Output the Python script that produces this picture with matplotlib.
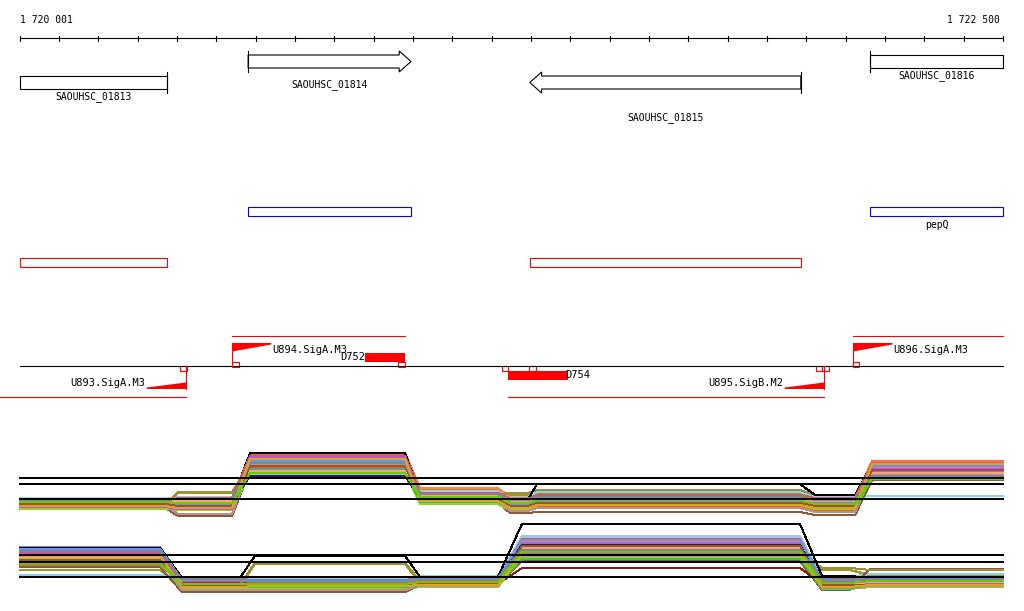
import matplotlib
matplotlib.use("Agg")
import matplotlib.pyplot as plt
from matplotlib.patches import Polygon, Rectangle

plt.rcParams["font.family"] = "DejaVu Sans Mono"

# genome window
win_start = 1720001
win_end = 1722500
tick_step = 100
tick_labels = ["1 720 001", "1 722 500"]

# annotated genes
gene_names = ["SAOUHSC_01813", "SAOUHSC_01814", "SAOUHSC_01815", "SAOUHSC_01816"]
gene_start = [1720001, 1720581, 1721297, 1722162]
gene_end = [1720375, 1720995, 1721986, 1722500]
gene_strand = ["-", "+", "-", "+"]
gene_arrow = [False, True, True, False]

# blue / red feature boxes
blue_names = ["", "pepQ"]
blue_start = [1720581, 1722162]
blue_end = [1720995, 1722500]
red_start = [1720001, 1721297]
red_end = [1720375, 1721986]

# promoters (TSS)
tss_names = ["U893.SigA.M3", "U894.SigA.M3", "U895.SigB.M2", "U896.SigA.M3"]
tss_pos = [1720423, 1720540, 1722045, 1722119]
tss_strand = ["-", "+", "-", "+"]
tss_reach = [1719950, 1720980, 1721242, 1722500]

# downstream regions
d_names = ["D752", "D754"]
d_start = [1720878, 1721242]
d_end = [1720980, 1721394]
d_strand = ["+", "-"]

# small markers on the strand line
mark_pos = [1720417, 1720549, 1720971, 1721234, 1721304, 1722032, 1722049, 1722126]
mark_strand = ["-", "+", "+", "-", "-", "-", "-", "+"]

# expression track 1: segment bounds and per-sample levels
t1_seg_start = [1720001, 1720403, 1720586, 1721018, 1721247, 1721315, 1722022, 1722167]
t1_seg_end = [1720370, 1720540, 1720980, 1721216, 1721292, 1721984, 1722124, 1722500]
t1_refs = [7.1, 8.6, 9.2]
t1_levels = [
    [6.9, 7.0, 11.6, 7.6, 7.0, 7.3, 7.0, 10.9],
    [6.7, 6.9, 11.2, 7.4, 6.8, 7.0, 6.6, 10.6],
    [6.6, 7.7, 10.9, 8.0, 7.5, 7.6, 7.2, 10.5],
    [6.4, 6.5, 10.3, 6.9, 6.4, 6.6, 6.2, 9.8],
    [7.0, 6.9, 11.0, 7.2, 6.9, 7.1, 6.8, 10.0],
    [7.1, 7.3, 9.6, 7.8, 7.3, 7.8, 7.4, 7.4],
    [6.8, 6.8, 10.8, 7.3, 6.7, 6.9, 6.5, 10.2],
    [6.6, 6.7, 10.7, 7.1, 6.6, 6.8, 6.4, 10.3],
    [6.3, 6.2, 10.2, 6.8, 6.1, 6.4, 6.0, 9.4],
    [6.2, 5.4, 10.0, 6.7, 5.7, 5.8, 5.5, 9.0],
    [7.2, 7.1, 10.9, 7.9, 7.2, 7.2, 7.0, 9.6],
    [6.9, 6.6, 10.6, 7.0, 6.5, 6.7, 6.3, 9.8],
    [6.5, 6.4, 10.4, 7.1, 6.3, 6.9, 6.4, 9.3],
    [6.1, 6.0, 9.8, 6.6, 6.0, 6.5, 6.1, 9.9],
    [6.8, 6.6, 11.7, 8.2, 7.2, 7.4, 7.1, 10.8],
    [6.4, 7.8, 10.5, 7.5, 7.7, 8.0, 7.5, 10.4],
    [6.7, 6.8, 10.1, 7.3, 6.8, 7.0, 6.7, 9.9],
    [6.6, 6.5, 10.6, 7.0, 6.5, 6.8, 6.5, 10.1],
    [7.1, 7.0, 11.7, 7.5, 7.0, 8.6, 7.5, 10.6],
    [7.0, 6.8, 9.4, 7.2, 6.8, 7.2, 6.9, 9.5],
    [6.5, 5.6, 10.5, 6.9, 5.9, 6.2, 5.8, 9.6],
    [6.4, 6.3, 10.0, 6.8, 6.3, 6.5, 6.2, 9.2],
    [6.7, 7.2, 11.4, 7.7, 7.1, 7.5, 7.2, 10.7],
    [6.5, 6.6, 10.9, 7.2, 6.6, 6.9, 6.6, 10.4],
    [6.9, 6.9, 9.9, 7.4, 6.9, 7.1, 6.9, 9.7],
    [6.3, 6.1, 11.3, 6.9, 6.2, 6.6, 6.3, 10.1],
    [6.6, 6.4, 10.4, 7.0, 6.4, 6.7, 6.4, 10.0],
    [7.0, 7.1, 10.7, 7.6, 7.0, 7.3, 7.0, 9.4],
    [6.4, 6.2, 11.1, 6.9, 6.2, 6.5, 6.2, 10.6],
    [6.8, 6.7, 9.7, 7.3, 6.7, 7.0, 6.6, 9.1],
]

# expression track 2
t2_seg_start = [1720001, 1720413, 1720598, 1721018, 1721277, 1722040, 1722162]
t2_seg_end = [1720357, 1720560, 1720980, 1721216, 1721984, 1722111, 1722500]
t2_refs = [8.5, 7.8, 6.3]
t2_levels = [
    [8.6, 5.8, 5.8, 6.0, 9.8, 5.7, 6.2],
    [8.3, 5.6, 5.6, 5.8, 9.4, 5.5, 6.0],
    [7.0, 5.3, 7.6, 5.7, 8.2, 7.0, 6.5],
    [8.0, 5.1, 5.2, 5.4, 8.0, 5.2, 5.4],
    [8.8, 6.0, 5.9, 6.1, 9.0, 6.0, 6.0],
    [6.5, 6.2, 6.2, 6.4, 10.3, 6.3, 6.6],
    [8.9, 5.9, 5.7, 5.9, 9.6, 5.8, 5.9],
    [8.7, 5.7, 5.6, 5.8, 9.3, 5.6, 5.8],
    [8.2, 5.4, 5.3, 5.5, 8.6, 5.3, 5.6],
    [7.3, 4.8, 4.8, 5.5, 7.9, 5.0, 7.1],
    [9.2, 6.1, 6.0, 6.2, 10.4, 6.2, 6.3],
    [8.5, 5.8, 5.7, 5.9, 9.1, 5.7, 5.7],
    [7.6, 5.5, 5.5, 5.6, 7.2, 5.6, 5.8],
    [8.1, 5.2, 5.1, 5.3, 8.3, 5.1, 5.3],
    [9.0, 5.9, 5.8, 6.0, 9.9, 5.9, 6.1],
    [7.5, 5.5, 7.7, 5.9, 8.9, 7.2, 7.0],
    [9.3, 6.0, 5.9, 6.1, 9.7, 6.0, 6.0],
    [8.4, 5.6, 5.5, 5.7, 8.8, 5.5, 5.7],
    [9.2, 6.2, 8.4, 6.3, 11.6, 6.4, 6.2],
    [7.8, 5.9, 5.9, 6.0, 9.5, 5.8, 5.9],
    [7.9, 5.0, 5.0, 5.4, 8.4, 5.1, 5.4],
    [8.0, 5.3, 5.3, 5.5, 8.1, 5.2, 5.5],
    [8.8, 5.9, 5.8, 6.0, 10.1, 5.8, 5.9],
    [9.1, 6.0, 5.9, 6.1, 10.0, 6.0, 6.1],
    [8.3, 5.6, 5.6, 5.8, 9.2, 5.6, 5.8],
    [8.6, 5.4, 5.5, 5.6, 8.7, 5.4, 5.6],
    [8.0, 5.5, 5.4, 5.7, 9.4, 5.5, 5.5],
    [8.9, 6.1, 6.0, 6.2, 9.0, 6.1, 6.1],
    [8.4, 5.3, 5.4, 5.5, 8.5, 5.3, 5.5],
    [7.7, 5.6, 5.6, 5.8, 8.8, 5.7, 5.9],
]

sample_colors = [
    "#FF6347", "#B8860B", "#9A9A1E", "#7CFC00", "#8B008B", "#87CEFA",
    "#DDA0DD", "#FF69B4", "#D2691E", "#8B5A3C", "#B0C4DE", "#C71585",
    "#8B1A1A", "#9ACD32", "#FF7F50", "#A08C3C", "#9370DB", "#E07B20",
    "#000000", "#2F1F3F", "#BC8F8F", "#32CD32",
    "#CD5C5C", "#6495ED", "#FFA07A", "#BA55D3", "#A0522D", "#778899",
    "#DAA520", "#66CD00",
]

# layout (pixel rows)
W, H = 1024, 611
bp_per_px = (win_end - win_start) / 983.0
x_lo = win_start - 20 * bp_per_px
x_hi = win_start + 1004 * bp_per_px
LW = 0.8
RED = "#FF0000"

fig = plt.figure(figsize=(W / 100, H / 100), dpi=100)
ax = fig.add_axes([0, 0, 1, 1])
ax.set_xlim(x_lo, x_hi)
ax.set_ylim(H, 0)
ax.axis("off")

# ruler
ax.plot([win_start, win_end], [38, 38], color="black", lw=LW)
t = win_start - 1
while t <= win_end:
    tx = max(t, win_start)
    ax.plot([tx, tx], [35.5, 40.5], color="black", lw=LW)
    t += tick_step
ax.text(win_start, 20, tick_labels[0], fontsize=7, ha="left", va="center")
ax.text(win_end - 3 * bp_per_px, 20, tick_labels[1], fontsize=7, ha="right", va="center")

# genes
head = 30
gene_label_y = [97, 85, 118, 76]
for name, s, e, strand, arrow, ly in zip(gene_names, gene_start, gene_end,
                                        gene_strand, gene_arrow, gene_label_y):
    top, bot = (55, 68) if strand == "+" else (76, 89)
    if arrow and strand == "+":
        pts = [(s, top), (e - head, top), (e - head, top - 4), (e, (top + bot) / 2),
               (e - head, bot + 4), (e - head, bot), (s, bot)]
    elif arrow:
        pts = [(e, top), (s + head, top), (s + head, top - 4), (s, (top + bot) / 2),
               (s + head, bot + 4), (s + head, bot), (e, bot)]
    else:
        pts = [(s, top), (e, top), (e, bot), (s, bot)]
    ax.add_patch(Polygon(pts, closed=True, fill=False, edgecolor="black", lw=LW))
    bx = s if strand == "+" else e
    ax.plot([bx, bx], [top - 4, bot + 4], color="black", lw=LW)
    ax.text((s + e) / 2, ly, name, fontsize=7, ha="center", va="center")

for name, s, e in zip(blue_names, blue_start, blue_end):
    ax.add_patch(Rectangle((s, 207), e - s, 9, fill=False, edgecolor="#0000FF", lw=LW))
    if name:
        ax.text((s + e) / 2, 225, name, fontsize=7, ha="center", va="center")
for s, e in zip(red_start, red_end):
    ax.add_patch(Rectangle((s, 258), e - s, 9, fill=False, edgecolor=RED, lw=LW))

# strand line with promoters
ax.plot([win_start, win_end], [366, 366], color="black", lw=LW)
tri = 100
for name, p, strand, reach in zip(tss_names, tss_pos, tss_strand, tss_reach):
    if strand == "+":
        ax.plot([p, p], [366, 343], color=RED, lw=LW)
        ax.add_patch(Polygon([(p, 343), (p + tri, 343), (p + tri, 344.5), (p, 351.5)],
                             color=RED, lw=0))
        ax.plot([p, reach], [336, 336], color=RED, lw=LW)
        ax.text(p + tri + 3, 350, name, fontsize=7.5, ha="left", va="center")
    else:
        ax.plot([p, p], [366, 389], color=RED, lw=LW)
        ax.add_patch(Polygon([(p - tri, 389), (p, 389), (p, 382.5), (p - tri, 387.5)],
                             color=RED, lw=0))
        ax.plot([reach, p], [397, 397], color=RED, lw=LW)
        ax.text(p - tri - 3, 383, name, fontsize=7.5, ha="right", va="center")

for name, s, e, strand in zip(d_names, d_start, d_end, d_strand):
    if strand == "+":
        ax.add_patch(Rectangle((s, 353), e - s, 9, color=RED, lw=0))
        ax.text(s, 357, name, fontsize=7.5, ha="right", va="center")
    else:
        ax.add_patch(Rectangle((s, 371), e - s, 9, color=RED, lw=0))
        ax.text(e - 3 * bp_per_px, 375, name, fontsize=7.5, ha="left", va="center")

for p, strand in zip(mark_pos, mark_strand):
    y0 = 362 if strand == "+" else 366
    ax.add_patch(Rectangle((p - 8, y0), 16, 4.5, fill=False, edgecolor=RED, lw=LW))


def draw_track(bottom_px, seg_start, seg_end, levels, refs):
    tax = fig.add_axes([0, 1 - bottom_px / H, 1, 90 / H])
    tax.set_xlim(x_lo, x_hi)
    tax.set_ylim(4, 13)
    tax.axis("off")
    tax.patch.set_alpha(0)
    for lev, col in zip(levels, sample_colors):
        xs, ys = [], []
        for s, e, v in zip(seg_start, seg_end, lev):
            xs += [s, e]
            ys += [v, v]
        tax.plot(xs, ys, color=col, lw=0.72, antialiased=False)
    for r in refs:
        tax.plot([win_start, win_end], [r, r], color="black", lw=1.1, antialiased=False)


draw_track(530, t1_seg_start, t1_seg_end, t1_levels, t1_refs)
draw_track(600, t2_seg_start, t2_seg_end, t2_levels, t2_refs)

fig.savefig("out.png", dpi=100)
